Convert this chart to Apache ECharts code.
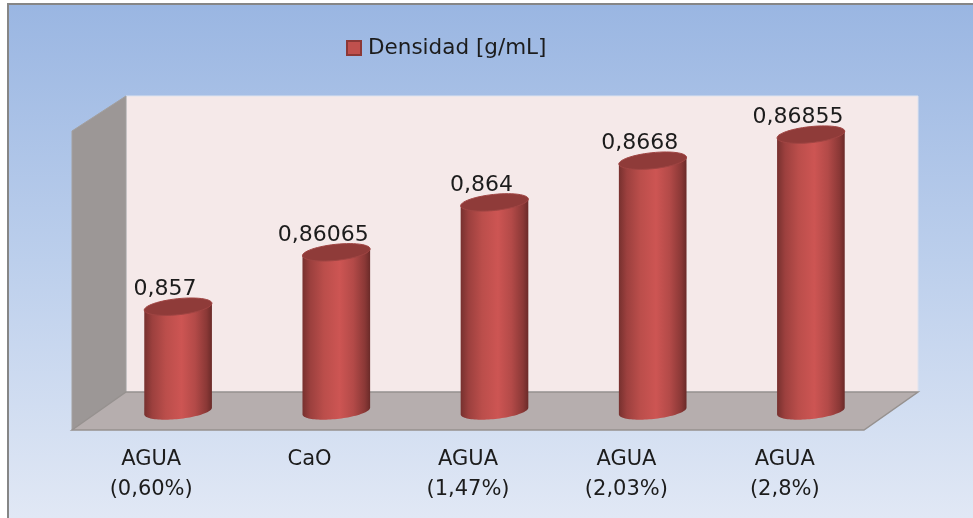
<!DOCTYPE html>
<html>
<head>
<meta charset="utf-8">
<style>html,body{margin:0;padding:0;background:#fff}#chart{width:973px;height:518px}</style>
<script src="https://cdn.jsdelivr.net/npm/echarts@6/dist/echarts.min.js"></script>
</head>
<body>
<div id="chart"></div>
<script>
// Densidad de cada mezcla
const categories = ['AGUA\n(0,60%)', 'CaO', 'AGUA\n(1,47%)', 'AGUA\n(2,03%)', 'AGUA\n(2,8%)'];
const densidad = [0.857, 0.86065, 0.864, 0.8668, 0.86855];
const seriesName = 'Densidad [g/mL]';
const axisMin = 0.85;
const axisMax = 0.87;

const FONT = '"DejaVu Sans", sans-serif';
const TILT = -6 * Math.PI / 180;

// Point of a tilted ellipse at angle t
function ellipsePoint(cx, cy, a, b, t) {
  return [
    cx + a * Math.cos(t) * Math.cos(TILT) - b * Math.sin(t) * Math.sin(TILT),
    cy + a * Math.cos(t) * Math.sin(TILT) + b * Math.sin(t) * Math.cos(TILT)
  ];
}

function ellipse(cx, cy, a, b, from, to, n) {
  const pts = [];
  for (let i = 0; i <= n; i++) {
    pts.push(ellipsePoint(cx, cy, a, b, from + (to - from) * i / n));
  }
  return pts;
}

// One cylinder: body, lid and value label
function renderCylinder(params, api) {
  const idx = api.value(0);
  const val = api.value(1);
  const top = api.coord([idx, val]);
  const base = api.coord([idx, axisMin]);
  const a = api.size([1, 0])[0] * 0.43 / 2;
  const b = 8;
  const cx = top[0];
  const bodyPts = [ellipsePoint(cx, top[1], a, b, Math.PI)]
    .concat(ellipse(cx, base[1], a, b, Math.PI, 0, 48))
    .concat([ellipsePoint(cx, top[1], a, b, 0)]);
  const x0 = cx - a;
  const w = 2 * a;
  return {
    type: 'group',
    children: [
      {
        type: 'polygon',
        shape: { points: bodyPts },
        style: {
          fill: new echarts.graphic.LinearGradient(x0, 0, x0 + w, 0, [
            { offset: 0, color: '#76302e' },
            { offset: 0.12, color: '#9c403e' },
            { offset: 0.32, color: '#bb4e4b' },
            { offset: 0.55, color: '#cd5553' },
            { offset: 0.75, color: '#b34a48' },
            { offset: 0.92, color: '#8a3836' },
            { offset: 1, color: '#692a28' }
          ], true)
        }
      },
      {
        type: 'polygon',
        shape: { points: ellipse(cx, top[1], a, b, 0, 2 * Math.PI, 56) },
        style: { fill: '#8f3b39', stroke: '#a04543', lineWidth: 1 }
      },
      {
        type: 'text',
        x: cx - 13,
        y: top[1] - 17,
        style: {
          text: String(val).replace('.', ','),
          font: '22px ' + FONT,
          fill: '#1c1c1c',
          align: 'center',
          verticalAlign: 'middle'
        }
      }
    ]
  };
}

const option = {
  animation: false,
  backgroundColor: 'transparent',
  graphic: { elements: [
    // Chart area with its frame
    { type: 'rect', silent: true, z: -10,
      shape: { x: 8, y: 4, width: 965, height: 514 },
      style: {
        fill: new echarts.graphic.LinearGradient(0, 0, 0, 1, [
          { offset: 0, color: '#9ab6e2' },
          { offset: 0.5, color: '#bccfec' },
          { offset: 1, color: '#e1e8f5' }
        ])
      } },
    { type: 'line', silent: true, z: -9, shape: { x1: 8, y1: 4, x2: 973, y2: 4 },
      style: { stroke: '#868686', lineWidth: 2 } },
    { type: 'line', silent: true, z: -9, shape: { x1: 8, y1: 3, x2: 8, y2: 518 },
      style: { stroke: '#868686', lineWidth: 2 } },
    // Back wall
    { type: 'rect', silent: true, z: -8,
      shape: { x: 126, y: 96, width: 792, height: 296 },
      style: { fill: '#f5e9e9', stroke: '#dfe3ee', lineWidth: 1 } },
    // Side wall
    { type: 'polygon', silent: true, z: -7,
      shape: { points: [[72, 131], [126, 96], [126, 392], [72, 430]] },
      style: { fill: '#9c9796', stroke: '#a3a09f', lineWidth: 1 } },
    // Floor
    { type: 'polygon', silent: true, z: -7,
      shape: { points: [[72, 430], [126, 392], [918, 392], [864, 430]] },
      style: { fill: '#b6aeae', stroke: '#96918f', lineWidth: 1.5 } }
  ] },
  legend: {
    left: 341,
    top: 32,
    data: [{ name: seriesName, icon: 'rect' }],
    itemWidth: 14,
    itemHeight: 14,
    itemGap: 8,
    selectedMode: false,
    textStyle: { fontFamily: FONT, fontSize: 21.5, color: '#1c1c1c', padding: [0, 0, 0, 2] }
  },
  grid: [
    // Mid-depth plane that carries the cylinders
    { left: 99, top: 113, width: 791, height: 298 },
    // Front edge of the floor that carries the category labels
    { left: 72, top: 131, width: 792, height: 299 }
  ],
  xAxis: [
    { type: 'category', gridIndex: 0, data: categories, show: false },
    { type: 'category', gridIndex: 1, data: categories,
      axisLine: { show: false }, axisTick: { show: false },
      axisLabel: { margin: 15, interval: 0, fontFamily: FONT, fontSize: 21, lineHeight: 30, color: '#1c1c1c' } }
  ],
  yAxis: [
    { type: 'value', gridIndex: 0, min: axisMin, max: axisMax, show: false },
    { type: 'value', gridIndex: 1, min: axisMin, max: axisMax, show: false }
  ],
  series: [
    {
      name: seriesName,
      type: 'custom',
      xAxisIndex: 0,
      yAxisIndex: 0,
      clip: false,
      itemStyle: { color: '#c0504d', borderColor: '#8c3836', borderWidth: 2 },
      encode: { x: 0, y: 1 },
      data: densidad.map((v, i) => [i, v]),
      renderItem: renderCylinder
    }
  ]
};

const chart = echarts.init(document.getElementById('chart'), null, { renderer: 'canvas' });
chart.setOption(option);
</script>
</body>
</html>
